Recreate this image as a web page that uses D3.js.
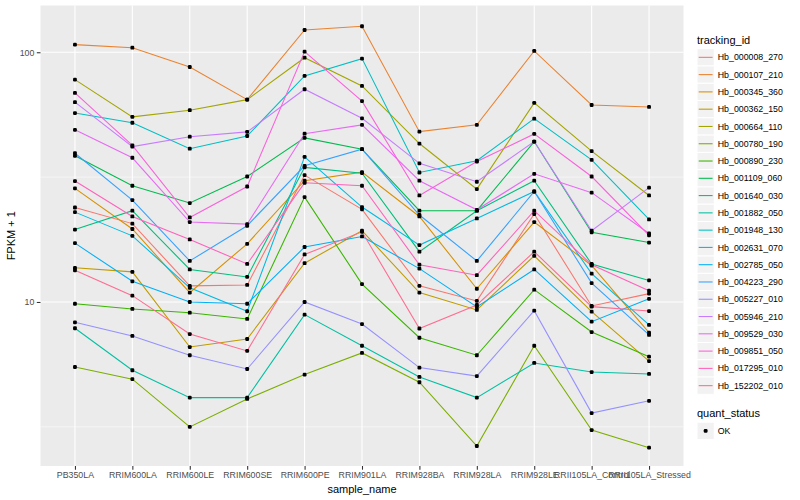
<!DOCTYPE html>
<html><head><meta charset="utf-8">
<script src="https://cdn.jsdelivr.net/npm/d3@7/dist/d3.min.js"></script>
<style>
body{margin:0;background:#fff}
svg{display:block}
text{font-family:"Liberation Sans",Arial,Helvetica,sans-serif}
</style>
</head><body>
<svg id="chart" width="800" height="500"></svg>
<script>
// ---------- data ----------
const samples = ["PB350LA","RRIM600LA","RRIM600LE","RRIM600SE","RRIM600PE","RRIM901LA","RRIM928BA","RRIM928LA","RRIM928LE","RRII105LA_Control","RRII105LA_Stressed"];
const trackingIds = ["Hb_000008_270","Hb_000107_210","Hb_000345_360","Hb_000362_150","Hb_000664_110","Hb_000780_190","Hb_000890_230","Hb_001109_060","Hb_001640_030","Hb_001882_050","Hb_001948_130","Hb_002631_070","Hb_002785_050","Hb_004223_290","Hb_005227_010","Hb_005946_210","Hb_009529_030","Hb_009851_050","Hb_017295_010","Hb_152202_010"];

// FPKM + 1 per sample (same order as samples)
const Hb_000008_270 = [23.9, 20.6, 11.6, 11.7, 32.2, 23.5, 11.6, 10.1, 22.5, 9.64, 10.8];
const Hb_000107_210 = [107.3, 104.3, 87.3, 64.6, 122.8, 127.1, 48.1, 51.2, 101.2, 61.5, 60.4];
const Hb_000345_360 = [28.5, 19.6, 10.9, 17.1, 30.6, 33.1, 22.0, 11.3, 20.9, 14.0, 7.54];
const Hb_000362_150 = [13.7, 13.2, 6.60, 7.11, 14.3, 19.3, 10.9, 9.29, 15.3, 9.15, 5.80];
const Hb_000664_110 = [77.7, 55.1, 58.6, 64.6, 95.1, 73.3, 43.1, 28.3, 62.7, 40.2, 26.7];
const Hb_000780_190 = [5.49, 4.91, 3.16, 4.09, 5.12, 6.25, 4.77, 2.65, 6.68, 3.07, 2.61];
const Hb_000890_230 = [9.84, 9.38, 9.06, 8.55, 26.3, 11.8, 7.19, 6.12, 11.2, 7.58, 6.04];
const Hb_001109_060 = [38.5, 29.2, 24.9, 31.8, 45.4, 40.9, 23.2, 23.2, 43.9, 19.0, 17.3];
const Hb_001640_030 = [19.5, 23.2, 13.5, 12.6, 34.6, 32.8, 15.9, 23.2, 30.6, 14.2, 12.2];
const Hb_001882_050 = [7.85, 5.33, 4.14, 4.14, 8.90, 6.68, 5.01, 4.14, 5.70, 5.24, 5.15];
const Hb_001948_130 = [57.1, 52.2, 41.1, 46.2, 80.4, 94.3, 33.0, 36.8, 54.2, 37.1, 21.4];
const Hb_002631_070 = [22.9, 18.4, 11.4, 9.18, 38.1, 24.0, 16.9, 21.6, 27.7, 13.0, 8.09];
const Hb_002785_050 = [17.2, 12.1, 10.0, 9.84, 16.6, 18.3, 13.6, 9.55, 13.5, 8.34, 10.3];
const Hb_004223_290 = [39.4, 25.6, 14.6, 20.2, 35.1, 40.9, 22.3, 14.6, 27.7, 11.9, 7.38];
const Hb_005227_010 = [8.29, 7.31, 6.12, 5.39, 10.0, 8.16, 5.46, 5.05, 9.23, 3.59, 4.02];
const Hb_005946_210 = [63.1, 41.9, 45.9, 48.0, 71.1, 54.4, 35.9, 30.3, 43.9, 19.3, 28.7];
const Hb_009529_030 = [48.9, 37.8, 20.9, 20.5, 47.2, 51.2, 30.6, 23.4, 32.6, 27.4, 18.8];
const Hb_009851_050 = [68.7, 42.4, 21.8, 29.0, 100.6, 63.7, 26.7, 36.5, 47.1, 31.8, 18.5];
const Hb_017295_010 = [30.5, 22.0, 17.8, 14.2, 30.0, 29.2, 14.1, 12.8, 23.2, 14.1, 11.1];
const Hb_152202_010 = [13.4, 10.6, 7.44, 6.37, 15.5, 19.1, 7.83, 9.73, 15.9, 9.58, 9.20];

const seriesValues = [Hb_000008_270,Hb_000107_210,Hb_000345_360,Hb_000362_150,Hb_000664_110,Hb_000780_190,Hb_000890_230,Hb_001109_060,Hb_001640_030,Hb_001882_050,Hb_001948_130,Hb_002631_070,Hb_002785_050,Hb_004223_290,Hb_005227_010,Hb_005946_210,Hb_009529_030,Hb_009851_050,Hb_017295_010,Hb_152202_010];

const yMajorTicks = [10, 100];
const yMinorBreaks = [3.1623, 31.623];
const yLimits = [2.204, 153.9];
const quantStatus = ["OK"];

const palette = ["#F8766D","#EA8331","#D89000","#C09B00","#A3A500","#7CAE00","#39B600","#00BB4E","#00BF7D","#00C1A3","#00BFC4","#00BAE0","#00B0F6","#35A2FF","#9590FF","#C77CFF","#E76BF3","#FA62DB","#FF62BC","#FF6C91"];

// ---------- layout ----------
const P = {left: 40.5, right: 683.5, top: 5.5, bottom: 466};
const svg = d3.select("#chart");

const x = d3.scalePoint().domain(samples).range([P.left, P.right]).padding(0.6);
const y = d3.scaleLog().domain(yLimits).range([P.bottom, P.top]);
const color = d3.scaleOrdinal().domain(trackingIds).range(palette);

// panel
svg.append("rect").attr("x", P.left).attr("y", P.top)
  .attr("width", P.right - P.left).attr("height", P.bottom - P.top).attr("fill", "#EBEBEB");

const grid = svg.append("g");
grid.selectAll(".ymin").data(yMinorBreaks).join("line")
  .attr("x1", P.left).attr("x2", P.right)
  .attr("y1", d => y(d)).attr("y2", d => y(d))
  .attr("stroke", "#fff").attr("stroke-width", 0.55);
grid.selectAll(".ymaj").data(yMajorTicks).join("line")
  .attr("x1", P.left).attr("x2", P.right)
  .attr("y1", d => y(d)).attr("y2", d => y(d))
  .attr("stroke", "#fff").attr("stroke-width", 1.1);
grid.selectAll(".xmaj").data(samples).join("line")
  .attr("x1", d => x(d)).attr("x2", d => x(d))
  .attr("y1", P.top).attr("y2", P.bottom)
  .attr("stroke", "#fff").attr("stroke-width", 1.1);

// series
const table = trackingIds.map((id, i) => ({
  id, values: samples.map((s, j) => ({sample: s, v: seriesValues[i][j]}))
}));

const line = d3.line().x(d => x(d.sample)).y(d => y(d.v));
svg.append("g").selectAll("path").data(table).join("path")
  .attr("d", d => line(d.values))
  .attr("fill", "none")
  .attr("stroke", d => color(d.id))
  .attr("stroke-width", 1.07);

svg.append("g").selectAll("g").data(table).join("g")
  .selectAll("rect").data(d => d.values).join("rect")
  .attr("x", d => x(d.sample) - 1.9).attr("y", d => y(d.v) - 1.9)
  .attr("width", 3.8).attr("height", 3.8).attr("rx", 1.2)
  .attr("fill", "#000");

// axes
const axisCol = "#4D4D4D";
const yAxis = d3.axisLeft(y).tickValues(yMajorTicks).tickFormat(d3.format("d")).tickSize(3.7).tickPadding(2.5);
const gy = svg.append("g").attr("transform", `translate(${P.left},0)`).call(yAxis);
gy.select(".domain").remove();
gy.selectAll("line").attr("stroke", "#333").attr("stroke-width", 1.07);
gy.selectAll("text").attr("fill", axisCol).attr("font-size", 8.8)
  .attr("font-family", '"Liberation Sans",Arial,sans-serif');

const xAxis = d3.axisBottom(x).tickSize(3.7).tickPadding(2.5);
const gx = svg.append("g").attr("transform", `translate(0,${P.bottom})`).call(xAxis);
gx.select(".domain").remove();
gx.selectAll("line").attr("stroke", "#333").attr("stroke-width", 1.07);
gx.selectAll("text").attr("fill", axisCol).attr("font-size", 8.8)
  .attr("font-family", '"Liberation Sans",Arial,sans-serif');

svg.append("text").attr("x", (P.left + P.right) / 2).attr("y", 493)
  .attr("text-anchor", "middle").attr("font-size", 11).attr("fill", "#000").text("sample_name");
svg.append("text").attr("transform", `translate(15,${(P.top + P.bottom) / 2}) rotate(-90)`)
  .attr("text-anchor", "middle").attr("font-size", 11).attr("fill", "#000").text("FPKM + 1");

// legend: tracking_id
const L = {x: 697, titleY: 43.5, keyTop: 48.7, step: 17.28, keyW: 17.28};
svg.append("text").attr("x", L.x).attr("y", L.titleY).attr("font-size", 11).attr("fill", "#000").text("tracking_id");
const lg = svg.append("g").selectAll("g").data(trackingIds).join("g")
  .attr("transform", (d, i) => `translate(${L.x},${L.keyTop + i * L.step})`);
lg.append("rect").attr("width", L.keyW).attr("height", L.step)
  .attr("fill", "#F2F2F2").attr("stroke", "#fff").attr("stroke-width", 1);
lg.append("line").attr("x1", 1.7).attr("x2", L.keyW - 1.7)
  .attr("y1", L.step / 2).attr("y2", L.step / 2)
  .attr("stroke", d => color(d)).attr("stroke-width", 1.07);
lg.append("text").attr("x", L.keyW + 3.5).attr("y", L.step / 2 + 3.1)
  .attr("font-size", 8.8).attr("fill", "#000").text(d => d);

// legend: quant_status
const qTitleY = 417;
svg.append("text").attr("x", L.x).attr("y", qTitleY).attr("font-size", 11).attr("fill", "#000").text("quant_status");
const qg = svg.append("g").selectAll("g").data(quantStatus).join("g")
  .attr("transform", (d, i) => `translate(${L.x},${qTitleY + 5.2 + i * L.step})`);
qg.append("rect").attr("width", L.keyW).attr("height", L.step)
  .attr("fill", "#F2F2F2").attr("stroke", "#fff").attr("stroke-width", 1);
qg.append("rect").attr("x", L.keyW / 2 - 1.9).attr("y", L.step / 2 - 1.9)
  .attr("width", 3.8).attr("height", 3.8).attr("rx", 1.2).attr("fill", "#000");
qg.append("text").attr("x", L.keyW + 3.5).attr("y", L.step / 2 + 3.1)
  .attr("font-size", 8.8).attr("fill", "#000").text(d => d);
</script>
</body></html>
